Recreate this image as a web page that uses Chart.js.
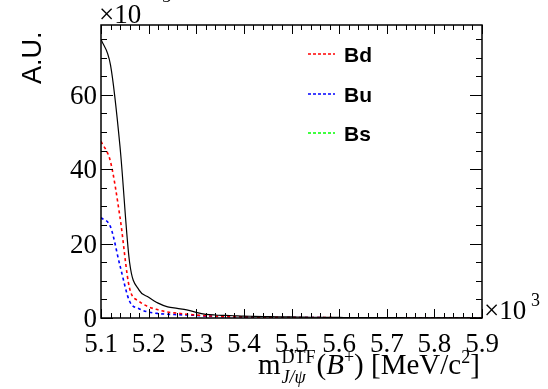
<!DOCTYPE html>
<html>
<head>
<meta charset="utf-8">
<script src="https://cdn.jsdelivr.net/npm/chart.js@4.4.0/dist/chart.umd.min.js"></script>
<style>
  html, body { margin: 0; padding: 0; background: #fff; }
  #wrap { width: 548px; height: 389px; }
</style>
</head>
<body>
<div id="wrap"><canvas id="myChart" width="548" height="389"></canvas></div>
<script>
// mass bins (x10^3 MeV/c^2)
var massBins = [5.10, 5.12, 5.14, 5.16, 5.18, 5.20, 5.22, 5.24, 5.26, 5.28,
                5.30, 5.32, 5.34, 5.36, 5.38, 5.40, 5.42, 5.44, 5.46, 5.48,
                5.50, 5.52, 5.54, 5.56, 5.58, 5.60, 5.62, 5.64, 5.66, 5.68,
                5.70, 5.72, 5.74, 5.76, 5.78, 5.80, 5.82, 5.84, 5.86, 5.88, 5.90];
// values in units of 10^-3
var totalValues = [75, 68, 46, 15, 7.5, 5.6, 4.0, 3.0, 2.6, 2.2,
                   1.5, 1.0, 0.8, 0.7, 0.6, 0.5, 0.45, 0.4, 0.35, 0.3,
                   0.3, 0.25, 0.2, 0.2, 0.15, 0.15, 0.1, 0.1, 0.1, 0.1,
                   0.1, 0.1, 0.05, 0.05, 0.05, 0.05, 0.05, 0.05, 0.05, 0.05, 0.05];
var bdValues = [47.5, 42, 27, 8, 4.5, 3.0, 2.2, 1.6, 1.3, 1.0,
                0.8, 0.6, 0.5, 0.4, 0.35, 0.3, 0.25, 0.2, 0.2, 0.15,
                0.15, 0.1, 0.1, 0.1, 0.1, 0.05, 0.05, 0.05, 0.05, 0.05,
                0.05, 0.05, 0.05, 0.05, 0.05, 0.05, 0.05, 0.05, 0.05, 0.05, 0.05];
var buValues = [27, 24.5, 14, 4.5, 2.5, 1.6, 1.2, 1.0, 0.9, 0.8,
                0.7, 0.5, 0.4, 0.35, 0.3, 0.25, 0.2, 0.2, 0.15, 0.15,
                0.1, 0.1, 0.1, 0.1, 0.05, 0.05, 0.05, 0.05, 0.05, 0.05,
                0.05, 0.05, 0.05, 0.05, 0.05, 0.05, 0.05, 0.05, 0.05, 0.05, 0.05];
var bsValues = []; // not visible in the picture

var xTickLabels = ['5.1', '5.2', '5.3', '5.4', '5.5', '5.6', '5.7', '5.8', '5.9'];
var yTickLabels = ['0', '20', '40', '60'];

function pts(vals) {
    var out = [];
    for (var i = 0; i < vals.length; i++) out.push({x: massBins[i], y: vals[i]});
    return out;
}

var serif = '"Liberation Serif", "Times New Roman", serif';
var sans = '"Liberation Sans", Arial, sans-serif';

var rootFrame = {
    id: 'rootFrame',
    afterDraw: function(chart) {
        var ctx = chart.ctx;
        var a = chart.chartArea;
        var xs = chart.scales.x, ys = chart.scales.y;
        ctx.save();
        ctx.strokeStyle = '#000';
        ctx.fillStyle = '#000';
        ctx.lineWidth = 1.5;
        ctx.strokeRect(a.left, a.top, a.right - a.left, a.bottom - a.top);

        // x ticks (bottom & top), major 0.1, minor 0.02
        ctx.lineWidth = 1;
        for (var k = 0; k <= 40; k++) {
            var v = 5.1 + k * 0.02;
            var px = Math.round(xs.getPixelForValue(v)) + 0.5;
            var len = (k % 5 === 0) ? 9 : 5;
            ctx.beginPath();
            ctx.moveTo(px, a.bottom); ctx.lineTo(px, a.bottom - len);
            ctx.moveTo(px, a.top); ctx.lineTo(px, a.top + len);
            ctx.stroke();
        }
        // y ticks (left & right), major 20, minor 5
        for (var j = 0; j <= 15; j++) {
            var yv = j * 5;
            var py = Math.round(ys.getPixelForValue(yv)) + 0.5;
            var yl = (j % 4 === 0) ? 12 : 6;
            ctx.beginPath();
            ctx.moveTo(a.left, py); ctx.lineTo(a.left + yl, py);
            ctx.moveTo(a.right, py); ctx.lineTo(a.right - yl, py);
            ctx.stroke();
        }

        // tick labels
        ctx.font = '27px ' + serif;
        ctx.textAlign = 'center';
        ctx.textBaseline = 'alphabetic';
        xTickLabels.forEach(function(t) {
            ctx.fillText(t, xs.getPixelForValue(parseFloat(t)), 352);
        });
        ctx.textAlign = 'right';
        yTickLabels.forEach(function(t) {
            ctx.fillText(t, a.left - 4, ys.getPixelForValue(parseFloat(t)) + 9);
        });

        // multipliers
        ctx.textAlign = 'left';
        ctx.fillText('\u00d710', 99, 23);
        ctx.font = '18px ' + serif;
        ctx.fillText('\u22123', 152, 2);
        ctx.font = '27px ' + serif;
        ctx.fillText('\u00d710', a.right + 2, 319);
        ctx.font = '18px ' + serif;
        ctx.fillText('3', 531, 306);

        // y title
        ctx.save();
        ctx.translate(41, 84);
        ctx.rotate(-Math.PI / 2);
        ctx.font = '27px ' + sans;
        ctx.textAlign = 'left';
        ctx.fillText('A.U.', 0, 0);
        ctx.restore();

        // x title: m^{DTF}_{J/psi}(B^+) [MeV/c^2]
        var x0 = 258, base = 374;
        ctx.font = '29px ' + serif;
        ctx.fillText('m', x0, base);
        var x1 = x0 + ctx.measureText('m').width + 1;
        ctx.font = '18px ' + serif;
        ctx.fillText('DTF', x1, base - 11);
        var wSup = ctx.measureText('DTF').width;
        ctx.font = 'italic 18px ' + serif;
        ctx.fillText('J/\u03c8', x1, base + 9);
        var x2 = x1 + wSup + 1;
        ctx.font = '29px ' + serif;
        ctx.fillText('(', x2, base);
        x2 += ctx.measureText('(').width;
        ctx.font = 'italic 29px ' + serif;
        ctx.fillText('B', x2, base);
        x2 += ctx.measureText('B').width;
        ctx.font = '18px ' + serif;
        ctx.fillText('+', x2, base - 11);
        x2 += ctx.measureText('+').width;
        ctx.font = '29px ' + serif;
        ctx.fillText(') [MeV/c', x2, base);
        x2 += ctx.measureText(') [MeV/c').width;
        ctx.font = '18px ' + serif;
        ctx.fillText('2', x2, base - 11);
        x2 += ctx.measureText('2').width;
        ctx.font = '29px ' + serif;
        ctx.fillText(']', x2, base);

        // legend
        var rows = [[1, 54], [2, 94], [3, 133]];
        rows.forEach(function(r) {
            var ds = chart.data.datasets[r[0]];
            ctx.strokeStyle = ds.borderColor;
            ctx.lineWidth = 1.5;
            ctx.setLineDash([3, 2]);
            ctx.beginPath();
            ctx.moveTo(308, r[1]); ctx.lineTo(335, r[1]);
            ctx.stroke();
            ctx.setLineDash([]);
            ctx.fillStyle = '#000';
            ctx.font = 'bold 21px ' + sans;
            ctx.textAlign = 'left';
            ctx.fillText(ds.label, 344, r[1] + 8);
        });
        ctx.restore();
    }
};

var ctx1 = document.getElementById('myChart').getContext('2d');
var myChart = new Chart(ctx1, {
    type: 'line',
    data: {
        datasets: [{
            label: 'Total',
            data: pts(totalValues),
            borderColor: '#000000',
            borderWidth: 1.2,
            pointRadius: 0,
            fill: false,
            cubicInterpolationMode: 'monotone'
        }, {
            label: 'Bd',
            data: pts(bdValues),
            borderColor: '#ff0000',
            borderWidth: 1.6,
            borderDash: [3, 3],
            pointRadius: 0,
            fill: false,
            cubicInterpolationMode: 'monotone'
        }, {
            label: 'Bu',
            data: pts(buValues),
            borderColor: '#0000ff',
            borderWidth: 1.6,
            borderDash: [3, 3],
            pointRadius: 0,
            fill: false,
            cubicInterpolationMode: 'monotone'
        }, {
            label: 'Bs',
            data: pts(bsValues),
            borderColor: '#00ff00',
            borderWidth: 1.6,
            borderDash: [3, 3],
            pointRadius: 0,
            fill: false,
            cubicInterpolationMode: 'monotone'
        }]
    },
    options: {
        responsive: false,
        animation: false,
        layout: { padding: { left: 101, top: 25, right: 66, bottom: 71 } },
        scales: {
            x: {
                type: 'linear', min: 5.1, max: 5.9,
                display: false
            },
            y: {
                min: 0, max: 78.8,
                display: false
            }
        },
        plugins: {
            legend: { display: false },
            tooltip: { enabled: false }
        }
    },
    plugins: [rootFrame]
});
</script>
</body>
</html>
